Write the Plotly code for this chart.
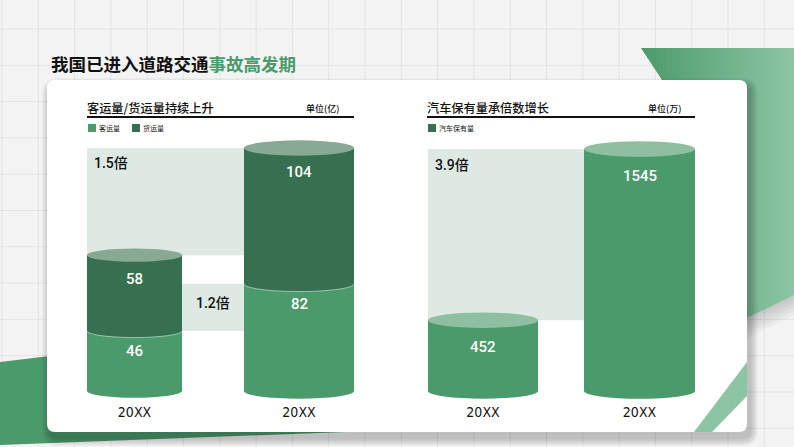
import plotly.graph_objects as go

W, H = 794, 447

# ---------------- data ----------------
years_left = ["20XX", "20XX"]
passenger = [46, 82]        # 客运量 (亿)
freight = [58, 104]         # 货运量 (亿)
years_right = ["20XX", "20XX"]
cars = [452, 1545]          # 汽车保有量 (万)
ratio_total = "1.5倍"
ratio_passenger = "1.2倍"
ratio_cars = "3.9倍"

# ---------------- style ----------------
LIGHT = "#4b9a6c"
DARK = "#377050"
TOP_LIGHT = "#8dbfa0"
TOP_DARK = "#88a994"
BAND = "#dde9e2"
CJK = "Noto Sans CJK SC"
NUM = "Roboto, Noto Sans CJK SC"
NARROW = "Liberation Sans Narrow, DejaVu Sans Condensed, Roboto Condensed, sans-serif"


def PX(x):
    return x / W


def PY(y):
    return 1 - y / H


def poly_path(pts):
    return "M " + " L ".join(f"{PX(x):.5f},{PY(y):.5f}" for x, y in pts) + " Z"


def rrect_path(x0, y0, x1, y1, r):
    P = lambda x, y: f"{PX(x):.5f},{PY(y):.5f}"
    return (f"M {P(x0+r,y0)} L {P(x1-r,y0)} Q {P(x1,y0)} {P(x1,y0+r)} "
            f"L {P(x1,y1-r)} Q {P(x1,y1)} {P(x1-r,y1)} L {P(x0+r,y1)} "
            f"Q {P(x0,y1)} {P(x0,y1-r)} L {P(x0,y0+r)} Q {P(x0,y0)} {P(x0+r,y0)} Z")


def clip_strip(poly, a, b):
    def half(pl, inside, inter):
        out = []
        for i in range(len(pl)):
            cur, prev = pl[i], pl[i - 1]
            if inside(cur):
                if not inside(prev):
                    out.append(inter(prev, cur))
                out.append(cur)
            elif inside(prev):
                out.append(inter(prev, cur))
        return out

    def ix(p, q, x):
        t = (x - p[0]) / (q[0] - p[0])
        return (x, p[1] + t * (q[1] - p[1]))

    pl = half(poly, lambda p: p[0] >= a, lambda p, q: ix(p, q, a))
    if pl:
        pl = half(pl, lambda p: p[0] <= b, lambda p, q: ix(p, q, b))
    return pl


def mix(c1, c2, t):
    a = [int(c1[i:i + 2], 16) for i in (1, 3, 5)]
    b = [int(c2[i:i + 2], 16) for i in (1, 3, 5)]
    return "rgb(%d,%d,%d)" % tuple(round(a[k] + (b[k] - a[k]) * t) for k in range(3))


shapes = []

# background grid
g = 36.3
x = 2.0
while x < W:
    shapes.append(dict(type="line", xref="paper", yref="paper", x0=PX(x), x1=PX(x), y0=0, y1=1,
                       line=dict(color="#e3e3e3", width=1), layer="below"))
    x += g
y = 29.0
while y < H:
    shapes.append(dict(type="line", xref="paper", yref="paper", x0=0, x1=1, y0=PY(y), y1=PY(y),
                       line=dict(color="#e3e3e3", width=1), layer="below"))
    y += g

# decorative green shapes
shapes.append(dict(type="path", xref="paper", yref="paper", layer="below",
                   path=poly_path([(0, 362), (200, 338), (345, 432), (0, 445)]),
                   fillcolor=LIGHT, line=dict(width=0)))

# shadow of top-right green block
for k in range(6):
    shapes.append(dict(type="path", xref="paper", yref="paper", layer="below",
                       path=poly_path([(794, 295 + k * 4), (708, 337 + k * 4), (708, 300), (794, 280)]),
                       fillcolor="rgba(0,0,0,0.035)", line=dict(width=0)))

tr_poly = [(641, 48), (794, 48), (794, 295), (708, 337), (708, 150)]
step = 3
xa = 641
while xa < 794:
    xb = min(xa + step, 794)
    pl = clip_strip(tr_poly, xa, xb + 0.6)
    if len(pl) >= 3:
        t = (xa - 641) / (794 - 641)
        shapes.append(dict(type="path", xref="paper", yref="paper", layer="below",
                           path=poly_path(pl), fillcolor=mix("#4d9a6c", "#8dc6a4", t),
                           line=dict(width=0)))
    xa = xb

# card shadow + card
for k in range(1, 9):
    shapes.append(dict(type="path", xref="paper", yref="paper", layer="below",
                       path=rrect_path(47 - k + 3, 80 - k + 6, 747 + k + 3, 432 + k + 6, 8 + k),
                       fillcolor="rgba(0,0,0,0.026)", line=dict(width=0)))
shapes.append(dict(type="path", xref="paper", yref="paper", layer="below",
                   path=rrect_path(47, 80, 747, 432, 8), fillcolor="white", line=dict(width=0)))
shapes.append(dict(type="path", xref="paper", yref="paper", layer="below",
                   path=poly_path([(694, 432), (712, 432), (747, 396), (747, 362)]),
                   fillcolor="#8cc5a3", line=dict(width=0)))

# header lines & legend squares
for x0, x1 in [(87, 354), (427, 695)]:
    shapes.append(dict(type="line", xref="paper", yref="paper", x0=PX(x0), x1=PX(x1),
                       y0=PY(117), y1=PY(117), line=dict(color="#111111", width=2)))
for x0, col in [(88, LIGHT), (132, DARK), (428, DARK)]:
    shapes.append(dict(type="rect", xref="paper", yref="paper", x0=PX(x0), x1=PX(x0 + 8),
                       y0=PY(132), y1=PY(124), fillcolor=col, line=dict(width=0)))

# ---------------- axes geometry ----------------
DOM_TOP, DOM_BOT, ZERO_PY = 140, 402, 391


def x_axis_geom(d0, d1, c0, c1):
    s = c1 - c0
    return [(d0 - c0) / s, (d1 - c0) / s], s


L_xr, L_s = x_axis_geom(84, 358, 134.5, 299)
R_xr, R_s = x_axis_geom(424, 700, 483, 639.5)
L_w = [95 / L_s, 110 / L_s]
R_w = [110 / R_s, 111 / R_s]

L_tot = [p + f for p, f in zip(passenger, freight)]
L_ppu = (ZERO_PY - 148) / max(L_tot)
R_ppu = (ZERO_PY - 149) / max(cars)
L_yr = [-(DOM_BOT - ZERO_PY) / L_ppu, (ZERO_PY - DOM_TOP) / L_ppu]
R_yr = [-(DOM_BOT - ZERO_PY) / R_ppu, (ZERO_PY - DOM_TOP) / R_ppu]

pos = [0, 1]

fig = go.Figure()
fig.add_trace(go.Bar(x=pos, y=passenger, width=L_w, marker=dict(color=LIGHT, line=dict(width=0)),
                     name="客运量", xaxis="x", yaxis="y", showlegend=False, hoverinfo="skip"))
fig.add_trace(go.Bar(x=pos, y=freight, width=L_w, marker=dict(color=DARK, line=dict(width=0)),
                     name="货运量", xaxis="x", yaxis="y", showlegend=False, hoverinfo="skip"))
fig.add_trace(go.Bar(x=pos, y=cars, width=R_w, marker=dict(color=LIGHT, line=dict(width=0)),
                     name="汽车保有量", xaxis="x2", yaxis="y2", showlegend=False, hoverinfo="skip"))


def ellipse(xr, yr, c, w, yc, ry, col, layer="above"):
    return dict(type="circle", xref=xr, yref=yr, x0=c - w / 2, x1=c + w / 2, y0=yc - ry, y1=yc + ry,
                fillcolor=col, line=dict(width=0), layer=layer)


def lower_arc(xr, yr, c, w, yc, ry, col):
    k = 0.5523
    rx = w / 2
    xl, xrr = c - rx, c + rx
    path = (f"M {xl},{yc} C {xl},{yc - k * ry} {c - k * rx},{yc - ry} {c},{yc - ry} "
            f"C {c + k * rx},{yc - ry} {xrr},{yc - k * ry} {xrr},{yc}")
    return dict(type="path", xref=xr, yref=yr, path=path, line=dict(color=col, width=1), layer="above")


annotations = []

# highlight bands (left)
shapes.append(dict(type="rect", xref="x", yref="y", x0=pos[0] - L_w[0] / 2, x1=pos[1],
                   y0=L_tot[0], y1=L_tot[1], fillcolor=BAND, line=dict(width=0), layer="below"))
shapes.append(dict(type="rect", xref="x", yref="y", x0=pos[0], x1=pos[1],
                   y0=passenger[0], y1=passenger[1], fillcolor=BAND, line=dict(width=0), layer="below"))
# highlight band (right)
shapes.append(dict(type="rect", xref="x2", yref="y2", x0=pos[0] - R_w[0] / 2, x1=pos[1],
                   y0=cars[0], y1=cars[1], fillcolor=BAND, line=dict(width=0), layer="below"))

# cylinders left
for i in range(2):
    w = L_w[i]
    ry = 0.07 * w * L_s / L_ppu
    shapes.append(ellipse("x", "y", pos[i], w, 0, ry, LIGHT, layer="below"))
    shapes.append(ellipse("x", "y", pos[i], w, passenger[i], ry, DARK))
    shapes.append(lower_arc("x", "y", pos[i], w, passenger[i], ry, "rgba(170,215,188,0.8)"))
    shapes.append(ellipse("x", "y", pos[i], w, L_tot[i], ry, TOP_DARK))
    annotations.append(dict(xref="x", yref="y", x=pos[i], y=L_tot[i], yshift=-24, text=str(freight[i]),
                            showarrow=False, font=dict(family=NUM, size=15, color="white", weight=500)))
    annotations.append(dict(xref="x", yref="y", x=pos[i], y=passenger[i], yshift=-20, text=str(passenger[i]),
                            showarrow=False, font=dict(family=NUM, size=15, color="white", weight=500)))

# cylinders right
for i in range(2):
    w = R_w[i]
    ry = 0.07 * w * R_s / R_ppu
    shapes.append(ellipse("x2", "y2", pos[i], w, 0, ry, LIGHT, layer="below"))
    shapes.append(ellipse("x2", "y2", pos[i], w, cars[i], ry, TOP_LIGHT))
    annotations.append(dict(xref="x2", yref="y2", x=pos[i], y=cars[i], yshift=-27, text=str(cars[i]),
                            showarrow=False, font=dict(family=NUM, size=15, color="white", weight=500)))

# ratio labels
annotations.append(dict(xref="x", yref="y", x=pos[0] - L_w[0] / 2, y=L_tot[1], xshift=5, yshift=-15,
                        xanchor="left", text=ratio_total, showarrow=False,
                        font=dict(family=NUM, size=14, color="#111111", weight=500)))
annotations.append(dict(xref="x", yref="y", x=(pos[0] + L_w[0] / 2 + pos[1] - L_w[1] / 2) / 2,
                        y=(passenger[0] + passenger[1]) / 2, yshift=4, text=ratio_passenger, showarrow=False,
                        font=dict(family=NUM, size=14, color="#111111", weight=500)))
annotations.append(dict(xref="x2", yref="y2", x=pos[0] - R_w[0] / 2, y=cars[1], xshift=5, yshift=-16,
                        xanchor="left", text=ratio_cars, showarrow=False,
                        font=dict(family=NUM, size=14, color="#111111", weight=500)))

# titles
annotations.append(dict(xref="paper", yref="paper", x=PX(49), y=PY(63), xanchor="left", yanchor="middle",
                        text='<b>我国已进入道路交通<span style="color:#4b9a6c">事故高发期</span></b>',
                        showarrow=False, font=dict(family=CJK, size=17.5, color="#111111")))
for x0, txt in [(85, "客运量/货运量持续上升"), (425, "汽车保有量承倍数增长")]:
    annotations.append(dict(xref="paper", yref="paper", x=PX(x0), y=PY(108), xanchor="left", yanchor="middle",
                            text=txt, showarrow=False, font=dict(family=CJK, size=12.2, color="#111111", weight=500)))
for x0, txt in [(341, "单位(亿)"), (683, "单位(万)")]:
    annotations.append(dict(xref="paper", yref="paper", x=PX(x0), y=PY(108), xanchor="right", yanchor="middle",
                            text=txt, showarrow=False, font=dict(family=CJK, size=9, color="#111111", weight=500)))
for x0, txt in [(97, "客运量"), (141, "货运量"), (437, "汽车保有量")]:
    annotations.append(dict(xref="paper", yref="paper", x=PX(x0), y=PY(128), xanchor="left", yanchor="middle",
                            text=txt, showarrow=False, font=dict(family=CJK, size=7, color="#111111")))

axis_common = dict(showgrid=False, zeroline=False, showline=False, ticks="", fixedrange=True)
fig.update_layout(
    width=W, height=H, margin=dict(l=0, r=0, t=0, b=0),
    paper_bgcolor="#f3f3f3", plot_bgcolor="rgba(0,0,0,0)",
    barmode="stack", bargap=0,
    xaxis=dict(domain=[PX(84), PX(358)], range=L_xr, tickvals=pos, ticktext=years_left,
               tickfont=dict(family=NARROW, size=14, color="#111111"), anchor="y", **axis_common),
    yaxis=dict(domain=[PY(DOM_BOT), PY(DOM_TOP)], range=L_yr, visible=False, anchor="x", **axis_common),
    xaxis2=dict(domain=[PX(424), PX(700)], range=R_xr, tickvals=pos, ticktext=years_right,
                tickfont=dict(family=NARROW, size=14, color="#111111"), anchor="y2", **axis_common),
    yaxis2=dict(domain=[PY(DOM_BOT), PY(DOM_TOP)], range=R_yr, visible=False, anchor="x2", **axis_common),
    shapes=shapes, annotations=annotations, showlegend=False,
)

fig.write_html("out.html")
